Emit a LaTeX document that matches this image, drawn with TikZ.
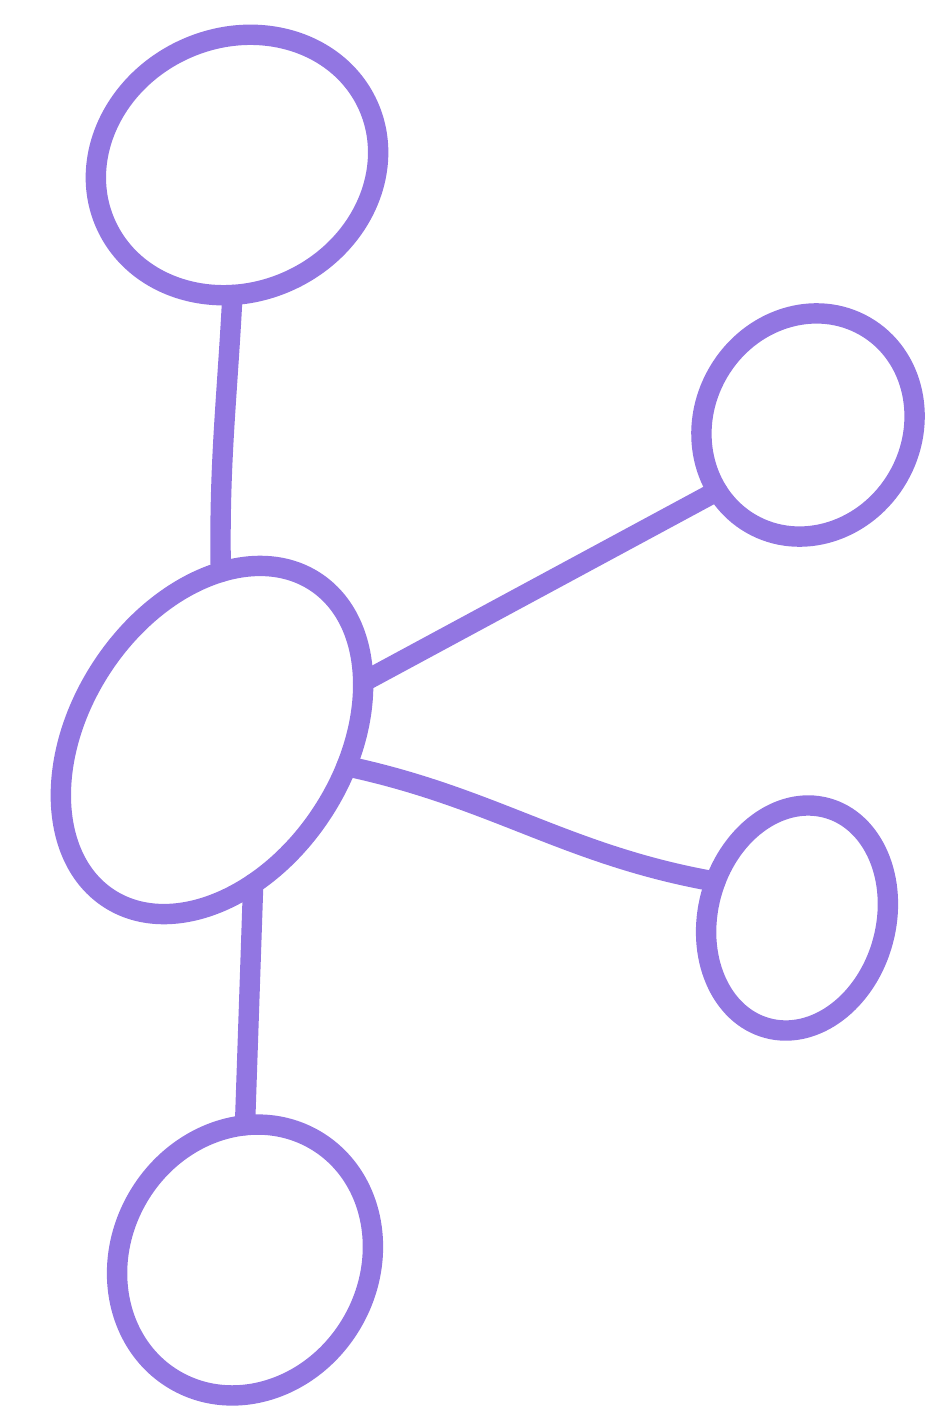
\documentclass[tikz,border=0pt]{standalone}
\usetikzlibrary{shapes.geometric}
\definecolor{lav}{RGB}{146,118,226}
\begin{document}
\begin{tikzpicture}[
  blob/.style={ellipse, draw=lav, line width=5.8pt, inner sep=0pt, outer sep=0pt},
  link/.style={draw=lav, line width=5.8pt, line cap=round}
]
\useasboundingbox (0,0) rectangle (9.33,-14.15);
\node[blob, minimum width=3.78cm, minimum height=2.64cm, rotate=57] (c) at (2.12,-7.40) {};
\node[blob, minimum width=2.88cm, minimum height=2.54cm, rotate=25] (t) at (2.37,-1.65) {};
\node[blob, minimum width=2.28cm, minimum height=2.08cm, rotate=60] (rt) at (8.08,-4.25) {};
\node[blob, minimum width=2.28cm, minimum height=1.78cm, rotate=75] (rm) at (7.97,-9.18) {};
\node[blob, minimum width=2.78cm, minimum height=2.48cm, rotate=60] (b) at (2.45,-12.60) {};
\draw[link] (t.-117) to[out=-93,in=91] (c.30.5);
\draw[link] (c.-36) -- (rt.156.5);
\draw[link] (c.-68) to[out=-12,in=170] (rm.81.4);
\draw[link] (c.-131.5) -- (b.30);
\end{tikzpicture}
\end{document}
